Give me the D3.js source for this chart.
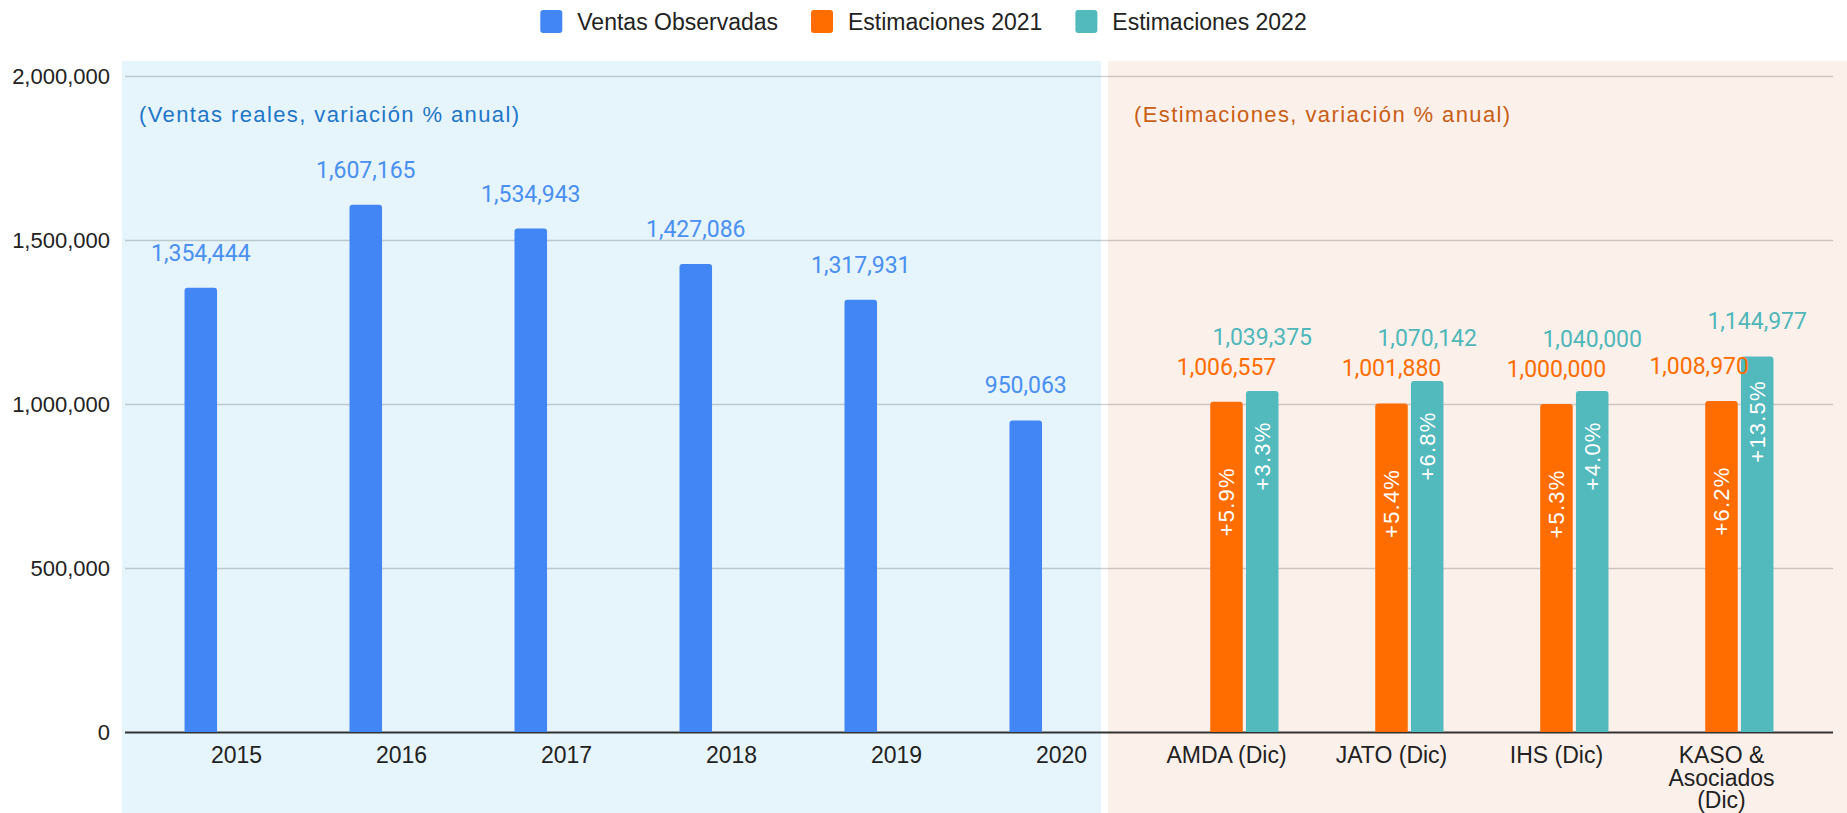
<!DOCTYPE html>
<html>
<head>
<meta charset="utf-8">
<script src="https://cdn.jsdelivr.net/npm/d3@7"></script>
<style>
  body { margin: 0; background: #fff; }
  svg { display: block; }
</style>
</head>
<body>
<div id="chart"></div>
<script>
// data
let categories = ['2015', '2016', '2017', '2018', '2019', '2020',
  'AMDA (Dic)', 'JATO (Dic)', 'IHS (Dic)', 'KASO & Asociados (Dic)']
let seriesNames = ['Ventas Observadas', 'Estimaciones 2021', 'Estimaciones 2022']
let ventas = [1354444, 1607165, 1534943, 1427086, 1317931, 950063, null, null, null, null]
let est2021 = [null, null, null, null, null, null, 1006557, 1001880, 1000000, 1008970]
let est2022 = [null, null, null, null, null, null, 1039375, 1070142, 1040000, 1144977]
let var2021 = [null, null, null, null, null, null, '+5.9%', '+5.4%', '+5.3%', '+6.2%']
let var2022 = [null, null, null, null, null, null, '+3.3%', '+6.8%', '+4.0%', '+13.5%']
let yTicks = [0, 500000, 1000000, 1500000, 2000000]

let width = 1847
let height = 813
let margin = { top: 76, bottom: 81, left: 125, right: 14 }

let colors = {
  'Ventas Observadas': '#4285f4',
  'Estimaciones 2021': '#ff6d01',
  'Estimaciones 2022': '#52b9bd'
}
let labelColors = {
  'Ventas Observadas': '#4a8ff2',
  'Estimaciones 2021': '#ff6d01',
  'Estimaciones 2022': '#4fb7b9'
}
let pctOffset = { 'Estimaciones 2021': 100, 'Estimaciones 2022': 65 }

let svg = d3
  .select('#chart')
  .append('svg')
  .attr('width', width)
  .attr('height', height)

let xPositionScale = d3
  .scaleBand()
  .domain(categories)
  .range([margin.left, width - margin.right])
  .paddingInner(0)
  .paddingOuter(0.176)

let xSub = d3
  .scaleBand()
  .domain(seriesNames)
  .range([-52, 52])
  .paddingInner(0.09)

let yPositionScale = d3
  .scaleLinear()
  .domain([0, 2000000])
  .range([height - margin.bottom, margin.top])

// background panels
svg.append('rect')
  .attr('x', 122).attr('y', 61)
  .attr('width', 1101 - 122).attr('height', height - 61)
  .attr('fill', '#e6f4fc')
svg.append('rect')
  .attr('x', 1108).attr('y', 61)
  .attr('width', width - 1108).attr('height', height - 61)
  .attr('fill', '#fcf0eb')

// gridlines + y axis
let yAxis = d3
  .axisLeft(yPositionScale)
  .tickValues(yTicks)
  .tickFormat(d3.format(','))
  .tickSize(-(width - margin.left - margin.right))
  .tickPadding(15)

let yg = svg.append('g')
  .attr('transform', `translate(${margin.left},0)`)
  .call(yAxis)
yg.select('.domain').remove()
yg.selectAll('.tick line')
  .attr('stroke', d => d === 0 ? '#333' : '#000')
  .attr('stroke-opacity', d => d === 0 ? 1 : 0.18)
  .attr('stroke-width', d => d === 0 ? 2 : 1.5)
yg.selectAll('.tick text')
  .attr('font-family', 'Liberation Sans, Arial, sans-serif')
  .attr('font-size', 22)
  .attr('fill', '#222')

// x axis
let xAxis = d3.axisBottom(xPositionScale).tickSize(0).tickPadding(15)
let xg = svg.append('g')
  .attr('transform', `translate(0,${height - margin.bottom})`)
  .call(xAxis)
xg.select('.domain').remove()
xg.selectAll('.tick text')
  .attr('font-family', 'Liberation Sans, Arial, sans-serif')
  .attr('font-size', 23)
  .attr('fill', '#222')
  .call(wrap, 130)

function wrap(texts, maxWidth) {
  texts.each(function() {
    let text = d3.select(this)
    let words = text.text().split(/\s+/)
    let y = text.attr('y')
    let dy = parseFloat(text.attr('dy'))
    text.text(null)
    let line = []
    let lineNo = 0
    let tspan = text.append('tspan').attr('x', 0).attr('y', y).attr('dy', dy + 'em')
    words.forEach(w => {
      line.push(w)
      tspan.text(line.join(' '))
      if (tspan.node().getComputedTextLength() > maxWidth && line.length > 1) {
        line.pop()
        tspan.text(line.join(' '))
        line = [w]
        lineNo++
        tspan = text.append('tspan').attr('x', 0).attr('y', y)
          .attr('dy', (dy + lineNo * 0.98) + 'em').text(w)
      }
    })
  })
}

// long format for bars
let rows = []
categories.forEach((c, i) => {
  if (ventas[i] != null) rows.push({ cat: c, series: seriesNames[0], value: ventas[i], pct: null })
  if (est2021[i] != null) rows.push({ cat: c, series: seriesNames[1], value: est2021[i], pct: var2021[i] })
  if (est2022[i] != null) rows.push({ cat: c, series: seriesNames[2], value: est2022[i], pct: var2022[i] })
})

function barX(d) {
  return xPositionScale(d.cat) + xPositionScale.bandwidth() / 2 + xSub(d.series)
}

function topRounded(x, y0, w, h, r) {
  r = Math.min(r, h, w / 2)
  return `M${x},${y0 + h}V${y0 + r}Q${x},${y0} ${x + r},${y0}H${x + w - r}` +
    `Q${x + w},${y0} ${x + w},${y0 + r}V${y0 + h}Z`
}

svg.append('g')
  .selectAll('path')
  .data(rows)
  .enter()
  .append('path')
  .attr('d', d => {
    let top = yPositionScale(d.value)
    return topRounded(barX(d), top, xSub.bandwidth(), yPositionScale(0) - top, 3)
  })
  .attr('fill', d => colors[d.series])

// percent labels inside estimate bars
svg.append('g')
  .selectAll('text')
  .data(rows.filter(d => d.pct))
  .enter()
  .append('text')
  .text(d => d.pct)
  .attr('transform', d => {
    let cx = barX(d) + xSub.bandwidth() / 2
    let cy = yPositionScale(d.value) + pctOffset[d.series]
    return `translate(${cx},${cy}) rotate(-90)`
  })
  .attr('text-anchor', 'middle')
  .attr('dy', '0.35em')
  .attr('font-family', 'Liberation Sans, Arial, sans-serif')
  .attr('font-size', 22)
  .attr('letter-spacing', 1.2)
  .attr('fill', '#fff')

// value labels above bars, with a simple overlap fix for the estimate pairs
let labelG = svg.append('g')
let fmt = d3.format(',')
let labels = labelG
  .selectAll('text')
  .data(rows)
  .enter()
  .append('text')
  .text(d => fmt(d.value))
  .attr('text-anchor', 'middle')
  .attr('font-family', 'Roboto, sans-serif')
  .attr('font-size', 23)
  .attr('fill', d => labelColors[d.series])
  .attr('x', d => barX(d) + xSub.bandwidth() / 2)
  .attr('y', d => yPositionScale(d.value) - 27)

categories.forEach(c => {
  let o = labels.filter(d => d.cat === c && d.series === seriesNames[1])
  let t = labels.filter(d => d.cat === c && d.series === seriesNames[2])
  if (o.empty() || t.empty()) return
  let td = t.datum()
  let oy = +o.attr('y')
  t.attr('y', Math.min(+t.attr('y'), oy - 30))
  // orange label sits beside a taller teal bar: slide it left
  let tealTop = yPositionScale(td.value)
  if (oy > tealTop) {
    let w = o.node().getComputedTextLength()
    let tealLeft = barX(td)
    let ox = +o.attr('x')
    if (ox + w / 2 > tealLeft) o.attr('x', tealLeft + 8 - w / 2)
  }
})

// panel notes
svg.append('text')
  .text('(Ventas reales, variación % anual)')
  .attr('x', 139).attr('y', 122)
  .attr('font-family', 'Liberation Sans, Arial, sans-serif')
  .attr('font-size', 22)
  .attr('letter-spacing', 1.4)
  .attr('fill', '#1f76c8')
svg.append('text')
  .text('(Estimaciones, variación % anual)')
  .attr('x', 1134).attr('y', 122)
  .attr('font-family', 'Liberation Sans, Arial, sans-serif')
  .attr('font-size', 22)
  .attr('letter-spacing', 1.4)
  .attr('fill', '#c95e16')

// legend
let legend = svg.append('g')
let lx = 0
seriesNames.forEach(name => {
  let g = legend.append('g').attr('transform', `translate(${lx},0)`)
  g.append('rect')
    .attr('x', 0).attr('y', 10)
    .attr('width', 22).attr('height', 23)
    .attr('rx', 3)
    .attr('fill', colors[name])
  let t = g.append('text')
    .text(name)
    .attr('x', 37).attr('y', 30)
    .attr('font-family', 'Liberation Sans, Arial, sans-serif')
    .attr('font-size', 23)
    .attr('fill', '#222')
  lx += 37 + t.node().getComputedTextLength() + 33
})
lx -= 33
legend.attr('transform', `translate(${(width - lx) / 2},0)`)
</script>
</body>
</html>
